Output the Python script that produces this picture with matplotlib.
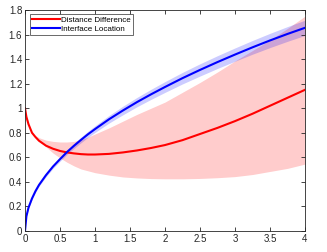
import matplotlib
matplotlib.use("Agg")
import matplotlib.pyplot as plt
import numpy as np

plt.rcParams['font.family'] = ['Liberation Sans', 'DejaVu Sans']

# values
t = [0.0, 0.02, 0.05, 0.1, 0.15, 0.2, 0.3, 0.4, 0.5, 0.6, 0.7, 0.8, 0.9, 1.0,
     1.2, 1.4, 1.6, 1.8, 2.0, 2.25, 2.5, 2.75, 3.0, 3.25, 3.5, 3.75, 4.0]

dist_diff = [1.0, 0.93, 0.87, 0.80, 0.765, 0.735, 0.695, 0.67, 0.652, 0.64, 0.632,
             0.626, 0.623, 0.623, 0.628, 0.64, 0.656, 0.676, 0.70, 0.74, 0.79,
             0.84, 0.895, 0.955, 1.02, 1.085, 1.15]

interface = [0.0, 0.12, 0.19, 0.265, 0.325, 0.375, 0.455, 0.525, 0.585, 0.643,
             0.694, 0.742, 0.788, 0.83, 0.91, 0.982, 1.05, 1.113, 1.173, 1.245,
             1.312, 1.376, 1.437, 1.496, 1.552, 1.605, 1.655]

band_t = [0.14, 0.2, 0.3, 0.4, 0.5, 0.6, 0.7, 0.8, 0.9, 1.0, 1.2, 1.4, 1.6, 1.8,
          2.0, 2.25, 2.5, 2.75, 3.0, 3.25, 3.5, 3.75, 4.0]
dist_upper = [0.78, 0.76, 0.74, 0.73, 0.725, 0.725, 0.73, 0.745, 0.765, 0.79,
              0.84, 0.895, 0.95, 1.0, 1.05, 1.13, 1.21, 1.295, 1.385, 1.47,
              1.555, 1.65, 1.75]
dist_lower = [0.78, 0.74, 0.685, 0.635, 0.595, 0.56, 0.53, 0.505, 0.49, 0.475,
              0.455, 0.44, 0.432, 0.427, 0.425, 0.425, 0.428, 0.434, 0.443,
              0.46, 0.485, 0.51, 0.545]

interface_spread = [0.0, 0.004, 0.006, 0.008, 0.01, 0.011, 0.013, 0.015, 0.017,
                    0.019, 0.021, 0.023, 0.025, 0.027, 0.031, 0.035, 0.038,
                    0.041, 0.044, 0.047, 0.05, 0.052, 0.054, 0.056, 0.058,
                    0.06, 0.062]

t = np.array(t)
interface = np.array(interface)
interface_spread = np.array(interface_spread)

fig = plt.figure(figsize=(3.27, 2.52), dpi=100)
ax = fig.add_axes([25 / 327, 21 / 252, 280 / 327, 221 / 252])

ax.fill_between(band_t, dist_lower, dist_upper, color=(1, 0, 0), alpha=0.2,
                linewidth=0)
ax.fill_between(t, interface - interface_spread, interface + interface_spread,
                color=(0, 0, 1), alpha=0.2, linewidth=0)
ax.plot(t, dist_diff, color=(1, 0, 0), lw=1.5, label='Distance Difference')
ax.plot(t, interface, color=(0, 0, 1), lw=1.5, label='Interface Location')

ax.set_xlim(0, 4)
ax.set_ylim(0, 1.8)
ax.set_xticks(np.arange(0, 4.01, 0.5))
ax.set_xticklabels(['0', '0.5', '1', '1.5', '2', '2.5', '3', '3.5', '4'])
ax.set_yticks(np.arange(0, 1.81, 0.2))
ax.set_yticklabels(['0', '0.2', '0.4', '0.6', '0.8', '1', '1.2', '1.4', '1.6', '1.8'])
ax.tick_params(direction='in', top=True, right=True, length=3, width=0.6,
               labelsize=7, colors=(0.15, 0.15, 0.15), pad=2)
for s in ax.spines.values():
    s.set_linewidth(0.6)
    s.set_color((0.15, 0.15, 0.15))

leg = ax.legend(loc='upper left', bbox_to_anchor=(4.7 / 280, 1 - 3.7 / 221),
                fontsize=5.8, handlelength=3.4, handletextpad=0.2,
                borderpad=0.3, labelspacing=0.16, fancybox=False,
                edgecolor=(0.15, 0.15, 0.15), borderaxespad=0)
leg.get_frame().set_linewidth(0.6)

fig.savefig('out.png', dpi=100)
